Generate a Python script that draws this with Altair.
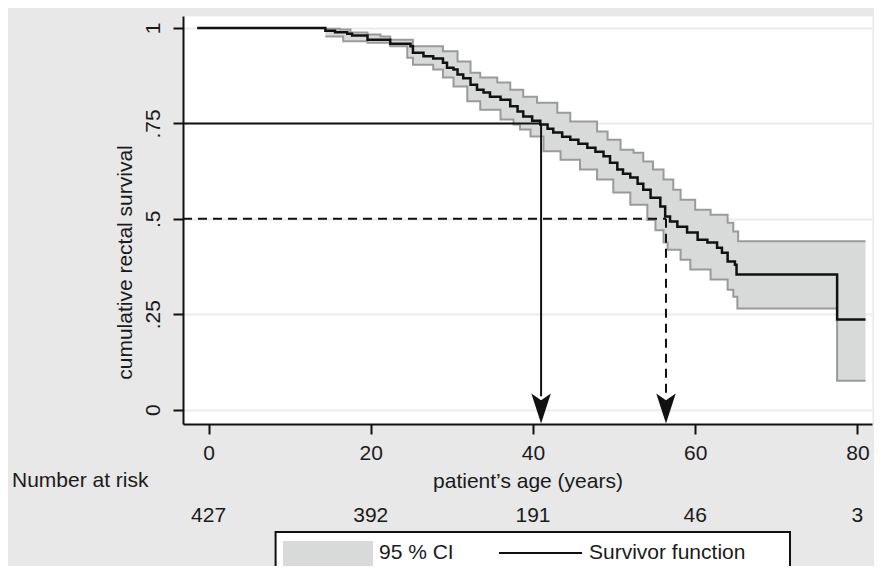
import altair as alt
import pandas as pd

# ---- data ----
surv_age = [-1.4, 14.4, 15.6, 17.1, 17.7, 19.6, 22.4, 24.9, 25.2, 26.5, 27.7, 28.9, 29.4, 30.2, 30.7,
            31.4, 32.3, 33.1, 33.9, 34.7, 36.0, 37.2, 38.1, 38.8, 39.9, 40.9, 41.8, 42.5, 43.6, 44.6,
            45.6, 46.7, 47.7, 48.7, 49.5, 50.4, 51.1, 52.0, 52.9, 53.6, 54.5, 55.7, 56.3, 56.9, 57.8,
            59.0, 60.3, 61.5, 62.7, 63.3, 64.0, 64.9, 65.1, 77.5, 81.0]
surv_val = [1.0, 0.993, 0.989, 0.985, 0.980, 0.969, 0.959, 0.952, 0.935, 0.926, 0.920, 0.909, 0.896, 0.891, 0.878,
            0.868, 0.851, 0.838, 0.831, 0.820, 0.812, 0.795, 0.781, 0.768, 0.757, 0.747, 0.736, 0.726, 0.715, 0.707,
            0.697, 0.686, 0.676, 0.664, 0.647, 0.629, 0.618, 0.608, 0.592, 0.576, 0.555, 0.532, 0.506, 0.493, 0.479,
            0.464, 0.445, 0.438, 0.424, 0.411, 0.388, 0.380, 0.354, 0.236, 0.236]

up_age = [14.4, 16.2, 17.5, 19.6, 21.2, 22.4, 25.2, 28.9, 30.7, 32.3, 33.5, 35.6, 37.2, 38.8, 40.5, 43.0,
          44.6, 47.9, 49.2, 50.8, 52.4, 53.6, 54.8, 56.1, 57.3, 58.2, 60.0, 61.9, 64.0, 64.7, 65.3, 81.0]
up_val = [0.998, 0.996, 0.988, 0.983, 0.978, 0.969, 0.952, 0.939, 0.912, 0.883, 0.870, 0.857, 0.838, 0.820, 0.804, 0.778,
          0.755, 0.729, 0.707, 0.681, 0.673, 0.650, 0.629, 0.603, 0.576, 0.550, 0.524, 0.511, 0.490, 0.467, 0.441, 0.441]

lo_age = [14.4, 16.6, 19.6, 22.4, 24.5, 25.2, 27.7, 28.9, 30.2, 31.9, 33.5, 36.0, 37.6, 38.4, 39.7, 41.3, 43.4,
          45.8, 47.9, 49.9, 52.0, 54.1, 55.1, 56.1, 56.6, 58.2, 59.4, 61.9, 64.0, 64.7, 65.2, 77.5, 81.0]
lo_val = [0.978, 0.965, 0.961, 0.952, 0.922, 0.904, 0.891, 0.870, 0.847, 0.808, 0.786, 0.760, 0.747, 0.734, 0.716, 0.677, 0.655,
          0.629, 0.603, 0.569, 0.537, 0.497, 0.470, 0.438, 0.419, 0.393, 0.367, 0.341, 0.314, 0.296, 0.265, 0.076, 0.076]

risk_age = [0, 20, 40, 60, 80]
risk_n = ["427", "392", "191", "46", "3"]

x_ticks = [0, 20, 40, 60, 80]
y_ticks = [0, 0.25, 0.5, 0.75, 1]

q_age = [41.0, 56.4]          # ages where the curve crosses .75 and .5
q_level = [0.75, 0.5]
q_dash = ["solid", "dash"]

X_DOMAIN = [-3.15, 81.8]
Y_DOMAIN = [-0.0375, 1.0314]

FONT = "Liberation Sans"
FS = 21
BAND_FILL = "#d8dada"
BAND_LINE = "#9a9a9a"


def step_at(ages, vals, a):
    v = vals[0]
    for ag, vl in zip(ages, vals):
        if ag <= a + 1e-9:
            v = vl
        else:
            break
    return v


band_x = sorted(set(up_age) | set(lo_age))
band = pd.DataFrame({
    "age": band_x,
    "upper": [step_at(up_age, up_val, a) for a in band_x],
    "lower": [step_at(lo_age, lo_val, a) for a in band_x],
})
surv = pd.DataFrame({"age": surv_age, "s": surv_val})
upper = pd.DataFrame({"age": up_age, "v": up_val})
lower = pd.DataFrame({"age": lo_age, "v": lo_val})

xs = alt.Scale(domain=X_DOMAIN, nice=False, zero=False)
ys = alt.Scale(domain=Y_DOMAIN, nice=False, zero=False)

x_axis = alt.Axis(values=x_ticks, title="patient’s age (years)", grid=False,
                  labelFontSize=FS, labelFont=FONT, labelPadding=8,
                  titleFontSize=FS, titleFont=FONT, titleFontWeight="normal",
                  titleY=57, titleBaseline="middle", titleColor="#1a1a1a")
y_axis = alt.Axis(values=y_ticks, title="cumulative rectal survival", grid=True,
                  gridColor="#ebebeb", gridWidth=2,
                  labelExpr="datum.value == 0 ? '0' : datum.value == 1 ? '1' : substring(format(datum.value, '.2~f'), 1)",
                  labelAngle=270, labelAlign="center", labelBaseline="middle", labelPadding=20,
                  labelFontSize=FS, labelFont=FONT,
                  titleFontSize=FS, titleFont=FONT, titleFontWeight="normal",
                  titleAngle=270, titleX=-58, titleY=246, titleAlign="center", titleBaseline="middle",
                  titleColor="#1a1a1a")

band_layer = alt.Chart(band).mark_area(interpolate="step-after", color=BAND_FILL, opacity=1).encode(
    x=alt.X("age:Q", scale=xs, axis=x_axis),
    y=alt.Y("upper:Q", scale=ys, axis=y_axis),
    y2="lower:Q",
)
up_layer = alt.Chart(upper).mark_line(interpolate="step-after", color=BAND_LINE, strokeWidth=2).encode(
    x=alt.X("age:Q", scale=xs), y=alt.Y("v:Q", scale=ys))
lo_layer = alt.Chart(lower).mark_line(interpolate="step-after", color=BAND_LINE, strokeWidth=2).encode(
    x=alt.X("age:Q", scale=xs), y=alt.Y("v:Q", scale=ys))
surv_layer = alt.Chart(surv).mark_line(interpolate="step-after", color="#111111", strokeWidth=2.5).encode(
    x=alt.X("age:Q", scale=xs), y=alt.Y("s:Q", scale=ys))

qdf = pd.DataFrame({"age": q_age, "level": q_level, "dash": q_dash,
                    "x0": [X_DOMAIN[0]] * 2, "ybot": [0.035] * 2, "ytip": [0.003] * 2})

ref_layers = []
for i, dash in enumerate(q_dash):
    d = qdf.iloc[[i]]
    sd = [9, 6] if dash == "dash" else [1, 0]
    ref_layers.append(alt.Chart(d).mark_rule(color="#111111", strokeWidth=2, strokeDash=sd).encode(
        x=alt.X("x0:Q", scale=xs), x2="age:Q", y=alt.Y("level:Q", scale=ys)))
    ref_layers.append(alt.Chart(d).mark_rule(color="#111111", strokeWidth=2, strokeDash=sd).encode(
        x=alt.X("age:Q", scale=xs), y=alt.Y("level:Q", scale=ys), y2="ybot:Q"))

arrow_path = "M0,1 L-0.65,-1 L0,-0.55 L0.65,-1 Z"
arrows = alt.Chart(qdf).mark_point(shape=arrow_path, filled=True, size=900, color="#111111",
                                   opacity=1, strokeWidth=0).encode(
    x=alt.X("age:Q", scale=xs), y=alt.Y("ytip:Q", scale=ys))

risk_df = pd.DataFrame({"age": risk_age, "n": risk_n})
risk_text = alt.Chart(risk_df).mark_text(font=FONT, fontSize=FS, color="#1a1a1a", baseline="middle").encode(
    x=alt.X("age:Q", scale=xs), y=alt.value(500), text="n:N")

lab_df = pd.DataFrame({"t": ["Number at risk"]})
risk_label = alt.Chart(lab_df).mark_text(font=FONT, fontSize=FS, color="#1a1a1a", align="left",
                                         baseline="middle").encode(
    x=alt.value(-171), y=alt.value(465), text="t:N")

one = pd.DataFrame({"k": [0]})
legend_box = alt.Chart(one).mark_rect(fill="white", stroke="#111111", strokeWidth=2).encode(
    x=alt.value(92.6), x2=alt.value(607), y=alt.value(516), y2=alt.value(560))
legend_swatch = alt.Chart(one).mark_rect(fill=BAND_FILL).encode(
    x=alt.value(100), x2=alt.value(190), y=alt.value(525), y2=alt.value(562))
legend_line = alt.Chart(one).mark_rule(color="#111111", strokeWidth=2).encode(
    x=alt.value(316), x2=alt.value(399), y=alt.value(537))
leg_txt = pd.DataFrame({"t": ["95 % CI", "Survivor function"], "px": [196, 406]})
legend_text = alt.Chart(leg_txt).mark_text(font=FONT, fontSize=FS, color="#1a1a1a", align="left",
                                           baseline="middle").encode(
    x=alt.X("px:Q", scale=None), y=alt.value(537), text="t:N")

chart = alt.layer(
    band_layer, up_layer, lo_layer, surv_layer, *ref_layers, arrows,
    risk_text, risk_label, legend_box, legend_swatch, legend_line, legend_text,
).properties(
    width=689, height=408,
    autosize=alt.AutoSizeParams(type="none"),
    padding={"left": 175, "top": 8, "right": 2, "bottom": 142},
    background="#e8e8e8",
).configure_view(
    fill="white", stroke="transparent",
).configure_axis(
    domainColor="#111111", domainWidth=2, tickColor="#111111", tickWidth=2, tickSize=10,
    labelColor="#1a1a1a",
)

chart.save("out.html", embed_options={"renderer": "svg", "actions": False})
